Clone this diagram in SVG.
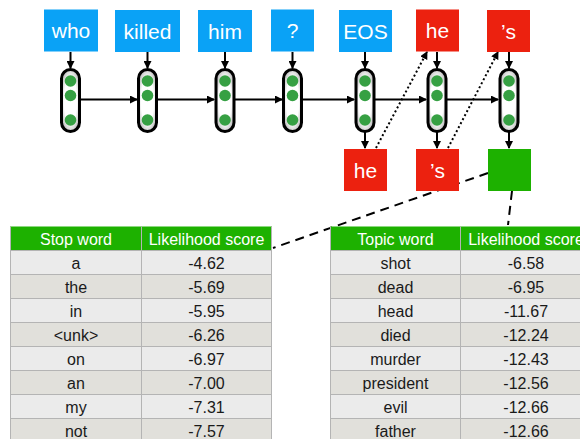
<svg xmlns="http://www.w3.org/2000/svg" width="580" height="439" viewBox="0 0 580 439">
<defs>
<style>
.bl{fill:#0aa2f6}
.rd{fill:#ec210f}
.gr{fill:#1db100}
.wt{font-family:"Liberation Sans",Arial,sans-serif;font-size:21px;fill:#fff;text-anchor:middle}
.cell{fill:url(#cg);stroke:#000;stroke-width:3}
.dot{fill:#36a043}
.ar{stroke:#000;stroke-width:2;fill:none;marker-end:url(#ah)}
.dt{stroke:#000;stroke-width:2;fill:none;stroke-dasharray:2 2.5;marker-end:url(#ah)}
.ds{stroke:#000;stroke-width:2;fill:none;stroke-dasharray:9 6}
.th{font-family:"Liberation Sans",Arial,sans-serif;font-size:16px;fill:#fff;text-anchor:middle}
.td{font-family:"Liberation Sans",Arial,sans-serif;font-size:16px;fill:#1a1a1a;text-anchor:middle}
.r1{fill:#ebebeb}
.r2{fill:#e1e0db}
.gl{stroke:#b4b4b4;stroke-width:1}
</style>
<radialGradient id="cg" cx="0.5" cy="0.5" r="0.6">
<stop offset="0.6" stop-color="#ffffff"/>
<stop offset="1" stop-color="#b0b0b0"/>
</radialGradient>
<marker id="ah" markerWidth="8" markerHeight="8" refX="7" refY="4" orient="auto" markerUnits="userSpaceOnUse">
<path d="M0,0 L8,4 L0,8 Z" fill="#000"/>
</marker>
</defs>
<rect width="580" height="439" fill="#fff"/>

<g id="connectors">
<line class="ar" x1="70.5" y1="52" x2="70.5" y2="68"/>
<line class="ar" x1="147.5" y1="52" x2="147.5" y2="68"/>
<line class="ar" x1="225" y1="52" x2="225" y2="68"/>
<line class="ar" x1="292.5" y1="52" x2="292.5" y2="68"/>
<line class="ar" x1="365" y1="52" x2="365" y2="68"/>
<line class="ar" x1="437" y1="52" x2="437" y2="68"/>
<line class="ar" x1="509" y1="52" x2="509" y2="68"/>
<line class="ar" x1="80" y1="99.5" x2="137" y2="99.5"/>
<line class="ar" x1="157" y1="99.5" x2="214" y2="99.5"/>
<line class="ar" x1="234.5" y1="99.5" x2="282" y2="99.5"/>
<line class="ar" x1="302" y1="99.5" x2="354" y2="99.5"/>
<line class="ar" x1="374.5" y1="99.5" x2="426" y2="99.5"/>
<line class="ar" x1="446.5" y1="99.5" x2="498" y2="99.5"/>
<line class="ar" x1="365" y1="132" x2="365" y2="148"/>
<line class="ar" x1="437" y1="132" x2="437" y2="148"/>
<line class="ar" x1="509" y1="132" x2="509" y2="148"/>
<line class="dt" x1="376" y1="148" x2="427" y2="52"/>
<line class="dt" x1="448" y1="148" x2="498" y2="52"/>
<line class="ds" x1="488" y1="173" x2="273" y2="248"/>
<line class="ds" x1="512" y1="191" x2="508" y2="225"/>
</g>

<g id="n-who"><rect class="bl" x="44" y="9.5" width="54" height="42"/><text class="wt" x="71" y="38">who</text></g>
<g id="n-killed"><rect class="bl" x="115" y="10" width="65" height="42"/><text class="wt" x="147.5" y="38.5">killed</text></g>
<g id="n-him"><rect class="bl" x="198" y="10" width="54" height="42"/><text class="wt" x="225" y="38.5">him</text></g>
<g id="n-q"><rect class="bl" x="271" y="9.5" width="43" height="42"/><text class="wt" x="292.5" y="38">?</text></g>
<g id="n-eos"><rect class="bl" x="339" y="10" width="53" height="42"/><text class="wt" x="365.5" y="38.5">EOS</text></g>
<g id="n-he-in"><rect class="rd" x="416" y="9.5" width="43" height="42"/><text class="wt" x="437.5" y="38">he</text></g>
<g id="n-s-in"><rect class="rd" x="487" y="10" width="43" height="42"/><text class="wt" x="508.5" y="38.5">’s</text></g>

<g id="c1"><rect class="cell" x="61.5" y="69.5" width="18" height="62" rx="9"/><circle class="dot" cx="70.5" cy="81" r="5.8"/><circle class="dot" cx="70.5" cy="95.5" r="5.8"/><circle class="dot" cx="70.5" cy="120" r="5.8"/></g>
<g id="c2"><rect class="cell" x="138.5" y="69.5" width="18" height="62" rx="9"/><circle class="dot" cx="147.5" cy="81" r="5.8"/><circle class="dot" cx="147.5" cy="95.5" r="5.8"/><circle class="dot" cx="147.5" cy="120" r="5.8"/></g>
<g id="c3"><rect class="cell" x="216" y="69.5" width="18" height="62" rx="9"/><circle class="dot" cx="225" cy="81" r="5.8"/><circle class="dot" cx="225" cy="95.5" r="5.8"/><circle class="dot" cx="225" cy="120" r="5.8"/></g>
<g id="c4"><rect class="cell" x="283.5" y="69.5" width="18" height="62" rx="9"/><circle class="dot" cx="292.5" cy="81" r="5.8"/><circle class="dot" cx="292.5" cy="95.5" r="5.8"/><circle class="dot" cx="292.5" cy="120" r="5.8"/></g>
<g id="c5"><rect class="cell" x="356" y="69.5" width="18" height="62" rx="9"/><circle class="dot" cx="365" cy="81" r="5.8"/><circle class="dot" cx="365" cy="95.5" r="5.8"/><circle class="dot" cx="365" cy="120" r="5.8"/></g>
<g id="c6"><rect class="cell" x="428" y="69.5" width="18" height="62" rx="9"/><circle class="dot" cx="437" cy="81" r="5.8"/><circle class="dot" cx="437" cy="95.5" r="5.8"/><circle class="dot" cx="437" cy="120" r="5.8"/></g>
<g id="c7"><rect class="cell" x="500" y="69.5" width="18" height="62" rx="9"/><circle class="dot" cx="509" cy="81" r="5.8"/><circle class="dot" cx="509" cy="95.5" r="5.8"/><circle class="dot" cx="509" cy="120" r="5.8"/></g>

<g id="n-he-out"><rect class="rd" x="344" y="149" width="43" height="42"/><text class="wt" x="365.5" y="177.5">he</text></g>
<g id="n-s-out"><rect class="rd" x="416" y="149" width="43" height="42"/><text class="wt" x="437.5" y="177.5">’s</text></g>
<g id="n-green"><rect class="gr" x="488" y="149" width="43" height="42"/></g>

<g id="t-stop">
<rect class="gr" x="10" y="226.5" width="262" height="24"/>
<rect class="r1" x="10" y="250.5" width="262" height="24"/>
<rect class="r2" x="10" y="274.5" width="262" height="24"/>
<rect class="r1" x="10" y="298.5" width="262" height="24"/>
<rect class="r2" x="10" y="322.5" width="262" height="24"/>
<rect class="r1" x="10" y="346.5" width="262" height="24"/>
<rect class="r2" x="10" y="370.5" width="262" height="24"/>
<rect class="r1" x="10" y="394.5" width="262" height="24"/>
<rect class="r2" x="10" y="418.5" width="262" height="24"/>
<line class="gl" x1="10" y1="250.5" x2="272" y2="250.5"/>
<line class="gl" x1="10" y1="274.5" x2="272" y2="274.5"/>
<line class="gl" x1="10" y1="298.5" x2="272" y2="298.5"/>
<line class="gl" x1="10" y1="322.5" x2="272" y2="322.5"/>
<line class="gl" x1="10" y1="346.5" x2="272" y2="346.5"/>
<line class="gl" x1="10" y1="370.5" x2="272" y2="370.5"/>
<line class="gl" x1="10" y1="394.5" x2="272" y2="394.5"/>
<line class="gl" x1="10" y1="418.5" x2="272" y2="418.5"/>
<line class="gl" x1="10.5" y1="226.5" x2="10.5" y2="439"/>
<line class="gl" x1="141.5" y1="226.5" x2="141.5" y2="439"/>
<line class="gl" x1="271.5" y1="226.5" x2="271.5" y2="439"/>
<text class="th" x="76" y="245">Stop word</text>
<text class="th" x="206.5" y="245">Likelihood score</text>
<text class="td" x="76" y="268.5">a</text><text class="td" x="206.5" y="268.5">-4.62</text>
<text class="td" x="76" y="292.5">the</text><text class="td" x="206.5" y="292.5">-5.69</text>
<text class="td" x="76" y="316.5">in</text><text class="td" x="206.5" y="316.5">-5.95</text>
<text class="td" x="76" y="340.5">&lt;unk&gt;</text><text class="td" x="206.5" y="340.5">-6.26</text>
<text class="td" x="76" y="364.5">on</text><text class="td" x="206.5" y="364.5">-6.97</text>
<text class="td" x="76" y="388.5">an</text><text class="td" x="206.5" y="388.5">-7.00</text>
<text class="td" x="76" y="412.5">my</text><text class="td" x="206.5" y="412.5">-7.31</text>
<text class="td" x="76" y="436.5">not</text><text class="td" x="206.5" y="436.5">-7.57</text>
</g>

<g id="t-topic">
<rect class="gr" x="330" y="226.5" width="262" height="24"/>
<rect class="r1" x="330" y="250.5" width="262" height="24"/>
<rect class="r2" x="330" y="274.5" width="262" height="24"/>
<rect class="r1" x="330" y="298.5" width="262" height="24"/>
<rect class="r2" x="330" y="322.5" width="262" height="24"/>
<rect class="r1" x="330" y="346.5" width="262" height="24"/>
<rect class="r2" x="330" y="370.5" width="262" height="24"/>
<rect class="r1" x="330" y="394.5" width="262" height="24"/>
<rect class="r2" x="330" y="418.5" width="262" height="24"/>
<line class="gl" x1="330" y1="250.5" x2="592" y2="250.5"/>
<line class="gl" x1="330" y1="274.5" x2="592" y2="274.5"/>
<line class="gl" x1="330" y1="298.5" x2="592" y2="298.5"/>
<line class="gl" x1="330" y1="322.5" x2="592" y2="322.5"/>
<line class="gl" x1="330" y1="346.5" x2="592" y2="346.5"/>
<line class="gl" x1="330" y1="370.5" x2="592" y2="370.5"/>
<line class="gl" x1="330" y1="394.5" x2="592" y2="394.5"/>
<line class="gl" x1="330" y1="418.5" x2="592" y2="418.5"/>
<line class="gl" x1="330.5" y1="226.5" x2="330.5" y2="439"/>
<line class="gl" x1="460.5" y1="226.5" x2="460.5" y2="439"/>
<text class="th" x="395.5" y="245">Topic word</text>
<text class="th" x="526" y="245">Likelihood score</text>
<text class="td" x="395.5" y="268.5">shot</text><text class="td" x="526" y="268.5">-6.58</text>
<text class="td" x="395.5" y="292.5">dead</text><text class="td" x="526" y="292.5">-6.95</text>
<text class="td" x="395.5" y="316.5">head</text><text class="td" x="526" y="316.5">-11.67</text>
<text class="td" x="395.5" y="340.5">died</text><text class="td" x="526" y="340.5">-12.24</text>
<text class="td" x="395.5" y="364.5">murder</text><text class="td" x="526" y="364.5">-12.43</text>
<text class="td" x="395.5" y="388.5">president</text><text class="td" x="526" y="388.5">-12.56</text>
<text class="td" x="395.5" y="412.5">evil</text><text class="td" x="526" y="412.5">-12.66</text>
<text class="td" x="395.5" y="436.5">father</text><text class="td" x="526" y="436.5">-12.66</text>
</g>
</svg>
